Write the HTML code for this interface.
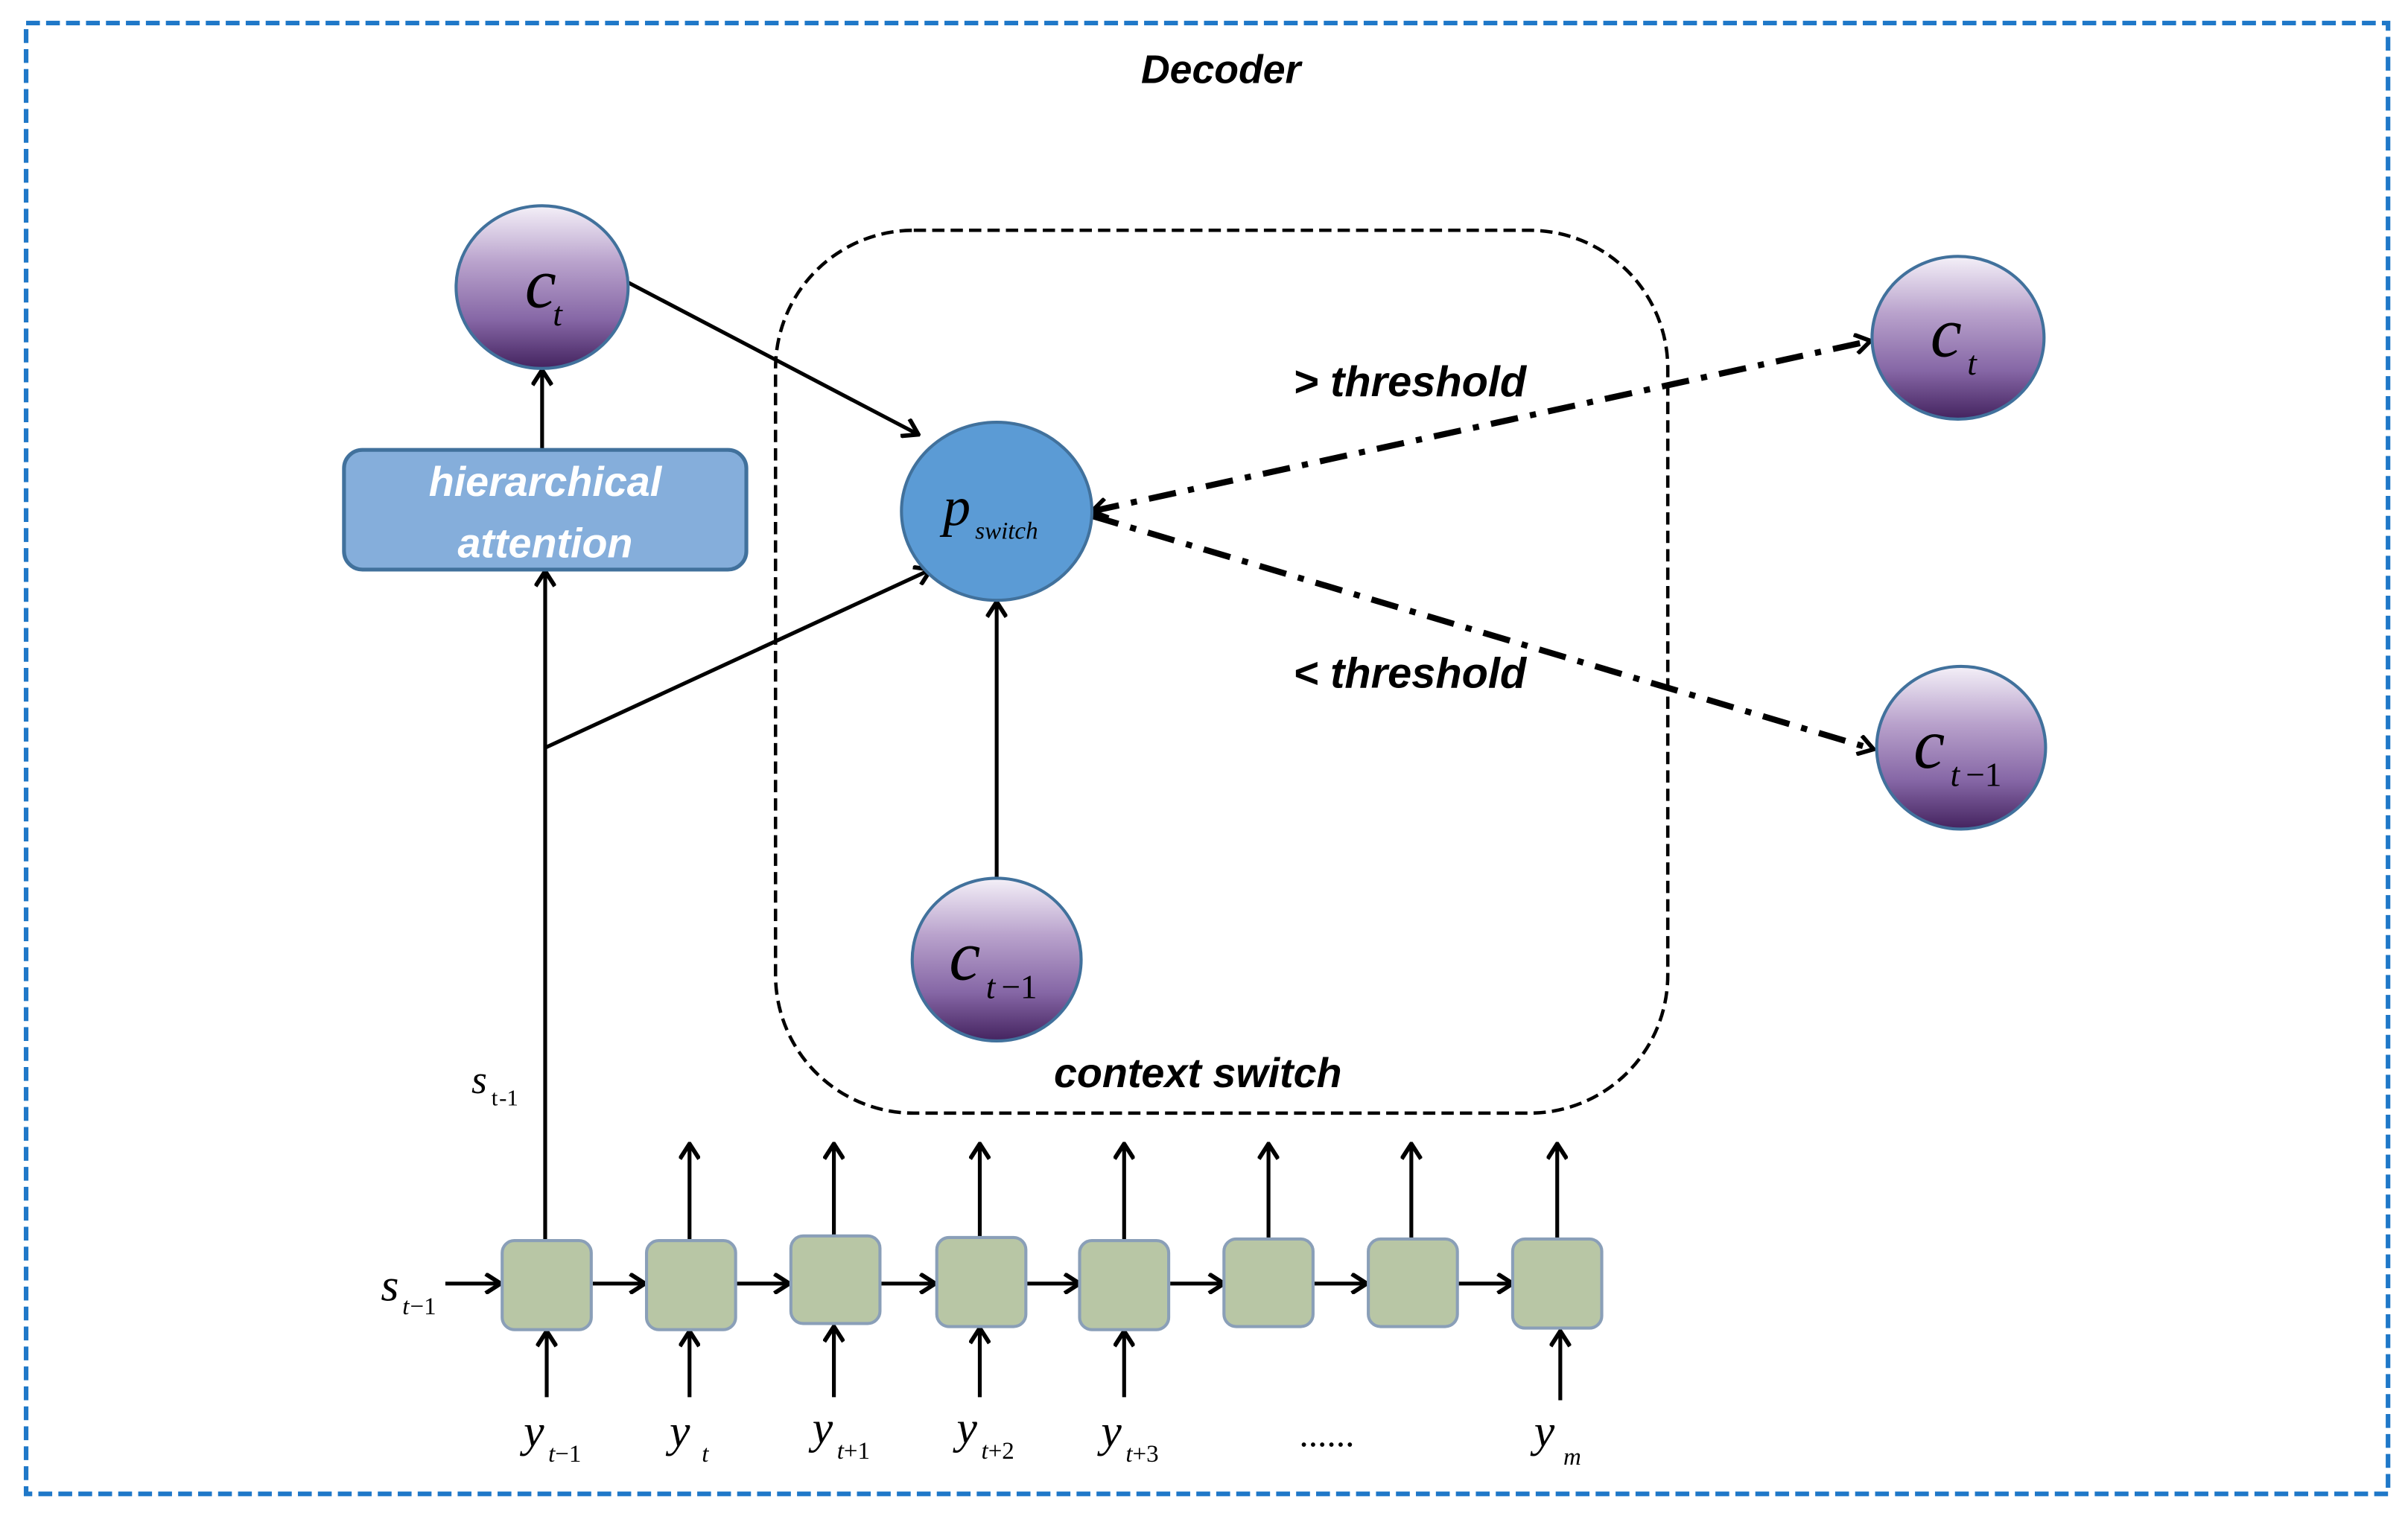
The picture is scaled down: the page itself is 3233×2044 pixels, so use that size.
<!DOCTYPE html>
<html><head><meta charset="utf-8"><style>
html,body{margin:0;padding:0;background:#fff;}
svg{display:block;}
text{font-family:"Liberation Serif",serif;}
.b{font-family:"Liberation Sans",sans-serif;font-weight:bold;font-style:italic;}
.m{font-style:italic;}
</style></head><body>
<svg width="3233" height="2044" viewBox="0 0 1568 991.3" preserveAspectRatio="none" xmlns="http://www.w3.org/2000/svg">
<defs>
<linearGradient id="pg" x1="0" y1="0" x2="0" y2="1">
<stop offset="0" stop-color="#f4f0f8"/><stop offset="0.35" stop-color="#b9a2cc"/><stop offset="0.7" stop-color="#8667a6"/><stop offset="1" stop-color="#44235f"/>
</linearGradient>
<marker id="a" viewBox="0 0 10 10" refX="9" refY="5" markerWidth="7" markerHeight="7" markerUnits="userSpaceOnUse" orient="auto-start-reverse">
<path d="M1,0.5 L9,5 L1,9.5" fill="none" stroke="#000" stroke-width="2"/>
</marker>
<marker id="a2" viewBox="0 0 10 10" refX="9" refY="5" markerWidth="14" markerHeight="14" markerUnits="userSpaceOnUse" orient="auto-start-reverse">
<path d="M2,0.5 L9,5 L2,9.5" fill="none" stroke="#000" stroke-width="2"/>
</marker>
</defs>
<rect x="17" y="15" width="1538" height="958" fill="none" stroke="#1f78c8" stroke-width="3" stroke-dasharray="9,4"/>
<text x="795" y="54" class="b" font-size="26" text-anchor="middle">Decoder</text>

<rect x="505" y="150" width="581" height="575" rx="90" fill="none" stroke="#000" stroke-width="2.2" stroke-dasharray="8,4"/>
<text x="780" y="708" class="b" font-size="27" text-anchor="middle">context switch</text>

<g stroke="#000" stroke-width="2.5" fill="none">
<line x1="353" y1="293" x2="353" y2="241" marker-end="url(#a2)"/>
<line x1="355" y1="808" x2="355" y2="372" marker-end="url(#a2)"/>
<line x1="355" y1="487" x2="606" y2="371" marker-end="url(#a2)"/>
<line x1="409" y1="184" x2="598" y2="283" marker-end="url(#a2)"/>
<line x1="649" y1="572" x2="649" y2="392" marker-end="url(#a2)"/>
<line x1="711" y1="333" x2="1218" y2="222" stroke-width="4" stroke-dasharray="18,8,4,8" marker-start="url(#a2)" marker-end="url(#a2)"/>
<line x1="711" y1="336" x2="1220" y2="488" stroke-width="4" stroke-dasharray="18,8,4,8" marker-end="url(#a2)"/>
</g>

<ellipse cx="353" cy="187" rx="56" ry="53" fill="url(#pg)" stroke="#41719c" stroke-width="2"/>
<text x="352" y="200" class="m" font-size="46" text-anchor="middle">c</text><text x="360" y="212" class="m" font-size="22">t</text>

<rect x="224" y="293" width="262" height="78" rx="12" fill="#85aedb" stroke="#41719c" stroke-width="2.5"/>
<text x="355" y="323" class="b" font-size="27" fill="#fff" text-anchor="middle">hierarchical</text>
<text x="355" y="363" class="b" font-size="27" fill="#fff" text-anchor="middle">attention</text>

<ellipse cx="649" cy="333" rx="62" ry="58" fill="#5b9bd5" stroke="#41719c" stroke-width="2"/>
<text x="614" y="342" class="m" font-size="36">p</text><text x="635" y="351" class="m" font-size="16">switch</text>

<ellipse cx="649" cy="625" rx="55" ry="53" fill="url(#pg)" stroke="#41719c" stroke-width="2"/>
<text x="618" y="638" class="m" font-size="46">c</text><text x="642" y="650" class="m" font-size="22">t</text><text x="652" y="650" font-size="22">−1</text>

<ellipse cx="1275" cy="220" rx="56" ry="53" fill="url(#pg)" stroke="#41719c" stroke-width="2"/>
<text x="1257" y="232" class="m" font-size="46">c</text><text x="1281" y="244" class="m" font-size="22">t</text>

<ellipse cx="1277" cy="487" rx="55" ry="53" fill="url(#pg)" stroke="#41719c" stroke-width="2"/>
<text x="1246" y="500" class="m" font-size="46">c</text><text x="1270" y="512" class="m" font-size="22">t</text><text x="1280" y="512" font-size="22">−1</text>

<text x="918" y="258" class="b" font-size="28" text-anchor="middle">&gt; threshold</text>
<text x="918" y="448" class="b" font-size="28" text-anchor="middle">&lt; threshold</text>

<text x="307" y="712" class="m" font-size="26">s</text><text x="320" y="720" font-size="15">t</text><text x="325" y="720" font-size="15">-1</text>
<text x="248" y="847" class="m" font-size="30">s</text><text x="262" y="856" class="m" font-size="16">t</text><text x="267" y="856" font-size="16">−1</text>

<g stroke="#000" stroke-width="2.5" fill="none">
<line x1="290" y1="836" x2="326" y2="836" marker-end="url(#a2)"/>
<line x1="386" y1="836" x2="420" y2="836" marker-end="url(#a2)"/>
<line x1="479" y1="836" x2="514" y2="836" marker-end="url(#a2)"/>
<line x1="573" y1="836" x2="609" y2="836" marker-end="url(#a2)"/>
<line x1="668" y1="836" x2="703" y2="836" marker-end="url(#a2)"/>
<line x1="762" y1="836" x2="797" y2="836" marker-end="url(#a2)"/>
<line x1="856" y1="836" x2="890" y2="836" marker-end="url(#a2)"/>
<line x1="949" y1="836" x2="985" y2="836" marker-end="url(#a2)"/>
<line x1="449" y1="808" x2="449" y2="745" marker-end="url(#a2)"/>
<line x1="543" y1="806" x2="543" y2="745" marker-end="url(#a2)"/>
<line x1="638" y1="808" x2="638" y2="745" marker-end="url(#a2)"/>
<line x1="732" y1="808" x2="732" y2="745" marker-end="url(#a2)"/>
<line x1="826" y1="808" x2="826" y2="745" marker-end="url(#a2)"/>
<line x1="919" y1="808" x2="919" y2="745" marker-end="url(#a2)"/>
<line x1="1014" y1="808" x2="1014" y2="745" marker-end="url(#a2)"/>
<line x1="356" y1="910" x2="356" y2="867" marker-end="url(#a2)"/>
<line x1="449" y1="910" x2="449" y2="867" marker-end="url(#a2)"/>
<line x1="543" y1="910" x2="543" y2="864" marker-end="url(#a2)"/>
<line x1="638" y1="910" x2="638" y2="865" marker-end="url(#a2)"/>
<line x1="732" y1="910" x2="732" y2="867" marker-end="url(#a2)"/>
<line x1="1016" y1="912" x2="1016" y2="867" marker-end="url(#a2)"/>
</g>
<g fill="#b8c6a5" stroke="#8a9fb8" stroke-width="2">
<rect x="327" y="808" width="58" height="58" rx="8"/>
<rect x="421" y="808" width="58" height="58" rx="8"/>
<rect x="515" y="805" width="58" height="57" rx="8"/>
<rect x="610" y="806" width="58" height="58" rx="8"/>
<rect x="703" y="808" width="58" height="58" rx="8"/>
<rect x="797" y="807" width="58" height="57" rx="8"/>
<rect x="891" y="807" width="58" height="57" rx="8"/>
<rect x="985" y="807" width="58" height="58" rx="8"/>
</g>
<g font-size="30">
<text x="341" y="942" class="m">y</text><text x="357" y="952" font-size="16"><tspan font-style="italic">t</tspan>−1</text>
<text x="436" y="942" class="m">y</text><text x="457" y="952" font-size="16" class="m">t</text>
<text x="529" y="940" class="m">y</text><text x="545" y="950" font-size="16"><tspan font-style="italic">t</tspan>+1</text>
<text x="623" y="940" class="m">y</text><text x="639" y="950" font-size="16"><tspan font-style="italic">t</tspan>+2</text>
<text x="717" y="942" class="m">y</text><text x="733" y="952" font-size="16"><tspan font-style="italic">t</tspan>+3</text>
<text x="846" y="942" font-size="24">......</text>
<text x="999" y="942" class="m">y</text><text x="1018" y="954" font-size="16" class="m">m</text>
</g>
</svg>
</body></html>
